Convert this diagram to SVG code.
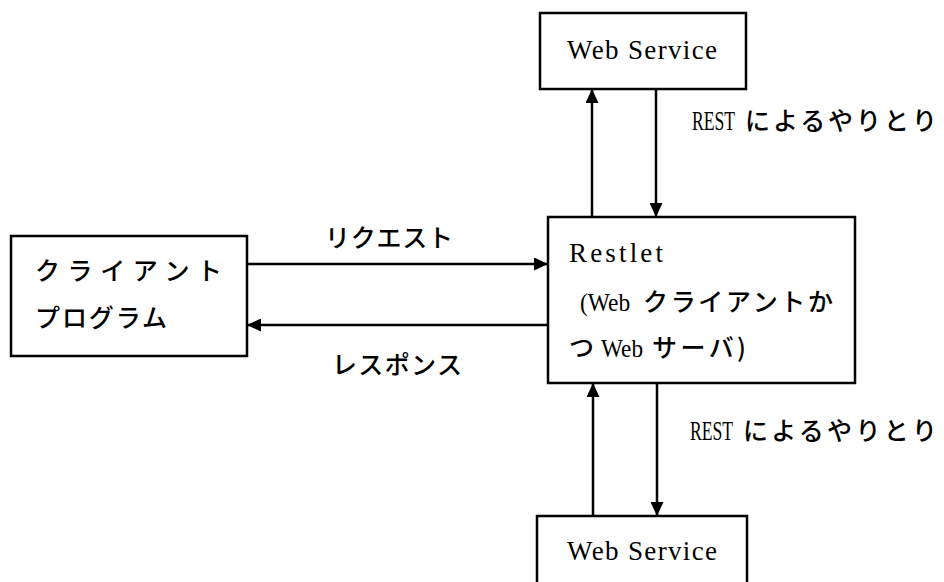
<svg xmlns="http://www.w3.org/2000/svg" width="944" height="582" viewBox="0 0 944 582">
<style>
.box{fill:#fff;stroke:#000;stroke-width:2.5}
.t{font-family:"Liberation Serif","Noto Sans CJK JP",serif;font-size:25px;fill:#000}
.r{font-family:"Liberation Serif","Noto Sans CJK JP",serif;font-size:28px;fill:#000}
.j{font-family:"Noto Sans CJK JP","Liberation Serif",sans-serif;font-size:25px;font-weight:500;fill:#000}
.l{font-family:"Liberation Serif","Noto Sans CJK JP",serif;font-size:27px;fill:#000}
.c line{stroke:#000;stroke-width:2.5}
</style>
<defs>
<marker id="ah" markerUnits="userSpaceOnUse" markerWidth="15" markerHeight="13" refX="14" refY="6.5" orient="auto">
<path d="M0,0 L14,6.5 L0,13 z" fill="#000"/>
</marker>
</defs>
<rect width="944" height="582" fill="#fff"/>
<g id="webservice-top">
<rect class="box" x="540" y="13" width="206" height="76"/>
<text class="l" x="567" y="59" textLength="150" lengthAdjust="spacing">Web Service</text>
</g>
<g id="restlet">
<rect class="box" x="548" y="217" width="307" height="166"/>
<text class="l" x="569" y="262" textLength="94" lengthAdjust="spacing">Restlet</text>
<text class="t" transform="translate(580,311) scale(0.94,1)">(Web</text>
<text class="j" x="643" y="311" textLength="190" lengthAdjust="spacing">クライアントか</text>
<text class="j" x="569" y="357">つ</text>
<text class="t" transform="translate(601,357) scale(0.93,1)">Web</text>
<text class="j" x="652" y="357" textLength="94" lengthAdjust="spacing">サーバ)</text>
</g>
<g id="client">
<rect class="box" x="11" y="236" width="236" height="120"/>
<text class="j" x="35" y="280" textLength="187" lengthAdjust="spacing">クライアント</text>
<text class="j" x="35" y="327" textLength="132" lengthAdjust="spacing">プログラム</text>
</g>
<g id="webservice-bottom">
<rect class="box" x="537" y="516" width="210" height="90"/>
<text class="l" x="567" y="560" textLength="150" lengthAdjust="spacing">Web Service</text>
</g>
<g id="connectors" class="c">
<line x1="247" y1="264" x2="548" y2="264" marker-end="url(#ah)"/>
<line x1="548" y1="325" x2="247" y2="325" marker-end="url(#ah)"/>
<line x1="592" y1="217" x2="592" y2="89" marker-end="url(#ah)"/>
<line x1="656" y1="89" x2="656" y2="217" marker-end="url(#ah)"/>
<line x1="593" y1="516" x2="593" y2="383" marker-end="url(#ah)"/>
<line x1="657" y1="383" x2="657" y2="516" marker-end="url(#ah)"/>
</g>
<g id="labels">
<text class="j" x="325" y="247" textLength="128" lengthAdjust="spacing">リクエスト</text>
<text class="j" x="332" y="374" textLength="130" lengthAdjust="spacing">レスポンス</text>
<text class="r" transform="translate(692,130) scale(0.63,1)">REST</text>
<text class="j" x="745" y="130" textLength="192" lengthAdjust="spacing">によるやりとり</text>
<text class="r" transform="translate(690,440) scale(0.63,1)">REST</text>
<text class="j" x="743" y="440" textLength="194" lengthAdjust="spacing">によるやりとり</text>
</g>
</svg>
